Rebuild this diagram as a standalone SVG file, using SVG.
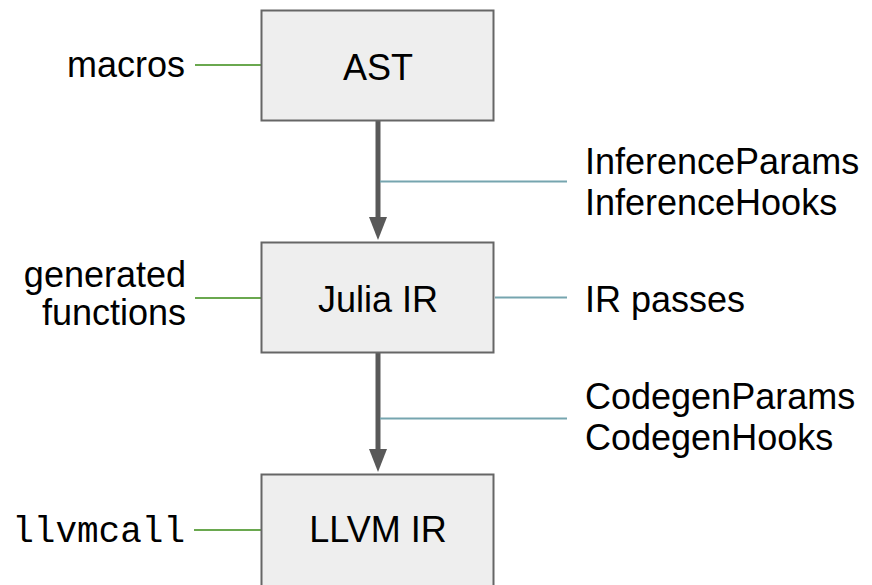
<svg xmlns="http://www.w3.org/2000/svg" width="872" height="585" viewBox="0 0 872 585">
<style>
.box{fill:#eeeeee;stroke:#666666;stroke-width:2}
.t{font-family:"Liberation Sans",Arial,sans-serif;font-size:36px;fill:#000}
.m{font-family:"Liberation Mono","Courier New",monospace;font-size:36px;fill:#000}
.g{stroke:#6aa84f;stroke-width:2;fill:none}
.b{stroke:#76a5af;stroke-width:2;fill:none}
.a{stroke:#595959;stroke-width:5;fill:none}
</style>
<defs>
<marker id="ah" markerUnits="userSpaceOnUse" markerWidth="23" markerHeight="18" refX="13" refY="9" orient="auto" viewBox="0 0 23 18">
<path d="M0,0 L23,9 L0,18 Z" fill="#595959"/>
</marker>
</defs>
<rect width="872" height="585" fill="#ffffff"/>
<g id="connectors">
<line class="a" x1="378" y1="121" x2="378" y2="230" marker-end="url(#ah)"/>
<line class="a" x1="378" y1="353" x2="378" y2="462" marker-end="url(#ah)"/>
<line class="g" x1="195" y1="65" x2="261" y2="65"/>
<line class="g" x1="195" y1="298" x2="261" y2="298"/>
<line class="g" x1="194" y1="530" x2="261" y2="530"/>
<line class="b" x1="380" y1="181.5" x2="567" y2="181.5"/>
<line class="b" x1="495" y1="297.5" x2="567" y2="297.5"/>
<line class="b" x1="380" y1="418.5" x2="567" y2="418.5"/>
</g>
<g id="ast">
<rect class="box" x="261.5" y="10.5" width="232" height="110"/>
<text class="t" x="378" y="80" text-anchor="middle">AST</text>
</g>
<g id="julia-ir">
<rect class="box" x="261.5" y="242.5" width="232" height="110"/>
<text class="t" x="378" y="312" text-anchor="middle">Julia IR</text>
</g>
<g id="llvm-ir">
<rect class="box" x="261.5" y="474.5" width="232" height="120"/>
<text class="t" x="378" y="542" text-anchor="middle">LLVM IR</text>
</g>
<g id="macros">
<text class="t" x="185" y="77" text-anchor="end">macros</text>
</g>
<g id="generated-functions">
<text class="t" x="186" y="287" text-anchor="end">generated</text>
<text class="t" x="186" y="325" text-anchor="end">functions</text>
</g>
<g id="llvmcall">
<text class="m" x="185" y="542" text-anchor="end">llvmcall</text>
</g>
<g id="inference">
<text class="t" x="585" y="174">InferenceParams</text>
<text class="t" x="585" y="215">InferenceHooks</text>
</g>
<g id="ir-passes">
<text class="t" x="585" y="312">IR passes</text>
</g>
<g id="codegen">
<text class="t" x="585" y="409">CodegenParams</text>
<text class="t" x="585" y="450">CodegenHooks</text>
</g>
</svg>
